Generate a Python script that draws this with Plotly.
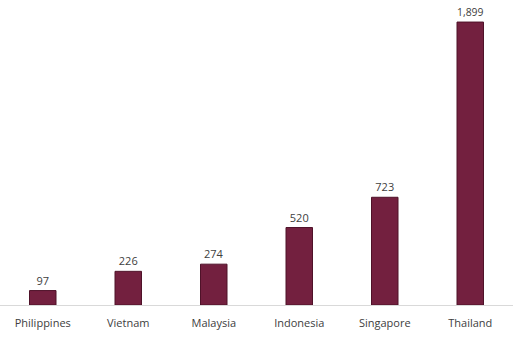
import plotly.graph_objects as go

countries = ["Philippines", "Vietnam", "Malaysia", "Indonesia", "Singapore", "Thailand"]
values = [97, 226, 274, 520, 723, 1899]

fig = go.Figure(go.Bar(
    x=countries, y=values,
    width=0.31,
    marker=dict(color="#73203f", line=dict(color="#4f1229", width=1)),
    text=[f"{v:,}" for v in values],
    textposition="outside",
    textfont=dict(family="Open Sans, Liberation Sans", size=11, color="#404040"),
    cliponaxis=False,
))
fig.update_layout(
    width=513, height=337,
    margin=dict(l=0, r=0, t=0, b=32),
    plot_bgcolor="white", paper_bgcolor="white",
    showlegend=False,
    xaxis=dict(showline=True, linecolor="#d9d9d9", linewidth=1, ticks="",
               ticklabelstandoff=8,
               tickfont=dict(family="Open Sans, Liberation Sans", size=11, color="#404040")),
    yaxis=dict(range=[0, 2047], visible=False, showgrid=False),
    bargap=0.69,
)
fig.write_html("out.html")
